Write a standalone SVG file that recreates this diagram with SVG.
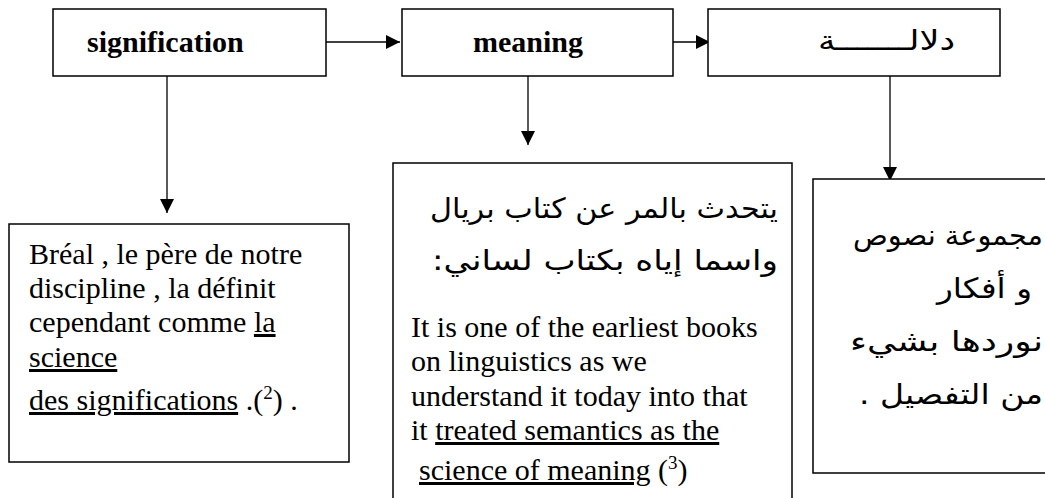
<svg xmlns="http://www.w3.org/2000/svg" width="1045" height="498" viewBox="0 0 1045 498">
<style>
.box{fill:#fff;stroke:#000;stroke-width:1.5}
.conn{stroke:#000;stroke-width:1.3;fill:none;marker-end:url(#ah)}
.en{font-family:"Liberation Serif","Times New Roman",serif;font-size:30px;fill:#000}
.hd{font-weight:bold}
.ar{font-family:"DejaVu Sans",sans-serif;font-size:28px;fill:#000}
.u{text-decoration:underline}
</style>
<defs>
<marker id="ah" markerUnits="userSpaceOnUse" markerWidth="14" markerHeight="14" refX="14" refY="7" orient="auto">
<path d="M0,0 L14,7 L0,14 Z" fill="#000"/>
</marker>
</defs>
<rect width="1045" height="498" fill="#fff"/>
<g id="connectors">
<path class="conn" d="M326,42 H400"/>
<path class="conn" d="M673,42 H710"/>
<path class="conn" d="M167,76 V213"/>
<path class="conn" d="M528,76 V145"/>
<path class="conn" d="M890,76 V181"/>
</g>
<g id="node-signification">
<rect class="box" x="53" y="9" width="273" height="67"/>
<text class="en hd" x="87" y="52">signification</text>
</g>
<g id="node-meaning">
<rect class="box" x="402" y="9" width="271" height="67"/>
<text class="en hd" x="473" y="52">meaning</text>
</g>
<g id="node-dalala">
<rect class="box" x="708" y="9" width="292" height="67"/>
<text class="ar" x="955" y="50" direction="rtl" text-anchor="start" textLength="137" lengthAdjust="spacingAndGlyphs">دلالـــــــة</text>
</g>
<g id="node-breal">
<rect class="box" x="9" y="224" width="340" height="238"/>
<text class="en" x="29" y="264">Bréal , le père de notre</text>
<text class="en" x="29" y="298">discipline , la définit</text>
<text class="en" x="29" y="332">cependant comme <tspan class="u">la</tspan></text>
<text class="en" x="29" y="367"><tspan class="u">science</tspan></text>
<text class="en" x="29" y="410"><tspan class="u">des significations</tspan> .(<tspan font-size="19" dy="-11">2</tspan><tspan dy="11">) .</tspan></text>
</g>
<g id="node-book">
<rect class="box" x="393" y="163" width="399" height="350"/>
<text class="ar" x="778" y="218" direction="rtl" text-anchor="start" textLength="348" lengthAdjust="spacingAndGlyphs">يتحدث بالمر عن كتاب بريال</text>
<text class="ar" x="778" y="270" direction="rtl" text-anchor="start" textLength="346" lengthAdjust="spacingAndGlyphs">واسما إياه بكتاب لساني:</text>
<text class="en" x="411" y="337">It is one of the earliest books</text>
<text class="en" x="411" y="371">on linguistics as we</text>
<text class="en" x="411" y="406">understand it today into that</text>
<text class="en" x="411" y="440">it <tspan class="u">treated semantics as the</tspan></text>
<text class="en" x="419" y="480"><tspan class="u">science of meaning</tspan>  (<tspan font-size="19" dy="-11">3</tspan><tspan dy="11">)</tspan></text>
</g>
<g id="node-texts">
<rect class="box" x="813" y="179" width="260" height="294"/>
<text class="ar" x="1043" y="245" direction="rtl" text-anchor="start" textLength="190" lengthAdjust="spacingAndGlyphs">مجموعة نصوص</text>
<text class="ar" x="1032" y="298" direction="rtl" text-anchor="start" textLength="95" lengthAdjust="spacingAndGlyphs">و أفكار</text>
<text class="ar" x="1043" y="351" direction="rtl" text-anchor="start" textLength="193" lengthAdjust="spacingAndGlyphs">نوردها بشيء</text>
<text class="ar" x="1043" y="404" direction="rtl" text-anchor="start" textLength="184" lengthAdjust="spacingAndGlyphs">من التفصيل .</text>
</g>
</svg>
